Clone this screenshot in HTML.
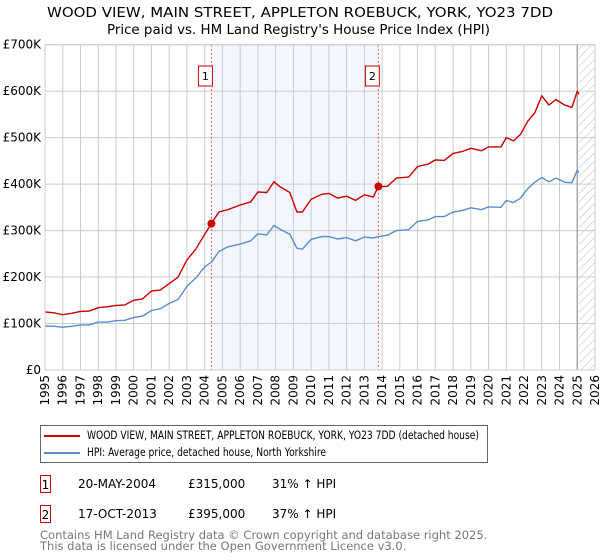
<!DOCTYPE html>
<html><head><meta charset="utf-8"><style>
body{margin:0;background:#fff;font-family:"DejaVu Sans","Liberation Sans",sans-serif;}
#wrap{position:relative;width:600px;height:560px;overflow:hidden}
.t{position:absolute;white-space:nowrap;color:#000}
.box{position:absolute;border:1px solid #c00;width:11px;height:18px;font-size:12px;text-align:center;line-height:18px;box-sizing:border-box}
.lt{display:inline-block;transform:scaleX(0.795);transform-origin:left center}
</style></head><body>
<div id="wrap">
<svg id="chart" width="600" height="420" style="position:absolute;left:0;top:0"></svg>
<div style="position:absolute;left:40px;top:425px;width:446px;height:36px;border:1px solid #666;font-size:11.5px;white-space:nowrap">
 <div style="position:absolute;left:3px;top:2px"><span style="display:inline-block;width:36px;height:2px;background:#c00;vertical-align:middle;margin-right:7px"></span><span class="lt">WOOD VIEW, MAIN STREET, APPLETON ROEBUCK, YORK, YO23 7DD (detached house)</span></div>
 <div style="position:absolute;left:3px;top:19px"><span style="display:inline-block;width:36px;height:2px;background:#5b8bd0;vertical-align:middle;margin-right:7px"></span><span class="lt">HPI: Average price, detached house, North Yorkshire</span></div>
</div>
<div class="box" style="left:40px;top:475px">1</div>
<div class="t" style="left:78px;top:477px;font-size:12px">20-MAY-2004</div>
<div class="t" style="left:188px;top:477px;font-size:12px">£315,000</div>
<div class="t" style="left:272px;top:477px;font-size:12px">31% ↑ HPI</div>
<div class="box" style="left:40px;top:505px">2</div>
<div class="t" style="left:78px;top:507px;font-size:12px">17-OCT-2013</div>
<div class="t" style="left:188px;top:507px;font-size:12px">£395,000</div>
<div class="t" style="left:272px;top:507px;font-size:12px">37% ↑ HPI</div>
<div class="t" style="left:40px;top:530px;font-size:11.5px;color:#777;line-height:11px">Contains HM Land Registry data © Crown copyright and database right 2025.<br>This data is licensed under the Open Government Licence v3.0.</div>
</div>
<script>
const redYears=[1995,1995.5,1996,1996.5,1997,1997.5,1998,1998.5,1999,1999.5,2000,2000.5,2001,2001.5,2002,2002.5,2003,2003.5,2004,2004.38,2004.8,2005.3,2006,2006.6,2007,2007.5,2007.9,2008.3,2008.8,2009.2,2009.5,2010,2010.6,2011,2011.5,2012,2012.5,2013,2013.5,2013.79,2014.3,2014.8,2015.5,2016,2016.6,2017,2017.5,2018,2018.5,2019,2019.6,2020,2020.7,2021,2021.4,2021.8,2022.2,2022.6,2023,2023.4,2023.8,2024.3,2024.7,2025,2025.1];
const redValues=[125,123,119,122,126,127,134,136,139,140,150,153,170,172,186,200,237,260,292,315,340,345,355,362,383,382,405,393,382,340,340,367,378,380,370,374,365,377,372,395,395,413,415,438,443,452,451,466,470,477,472,480,480,500,493,507,535,553,590,570,582,570,565,600,593];
const hpiYears=[1995,1995.5,1996,1996.5,1997,1997.5,1998,1998.5,1999,1999.5,2000,2000.5,2001,2001.5,2002,2002.5,2003,2003.5,2004,2004.38,2004.8,2005.3,2006,2006.6,2007,2007.5,2007.9,2008.3,2008.8,2009.2,2009.5,2010,2010.6,2011,2011.5,2012,2012.5,2013,2013.5,2013.79,2014.3,2014.8,2015.5,2016,2016.6,2017,2017.5,2018,2018.5,2019,2019.6,2020,2020.7,2021,2021.4,2021.8,2022.2,2022.6,2023,2023.4,2023.8,2024.3,2024.7,2025,2025.1];
const hpiValues=[95,94,92,94,97,97,103,103,106,107,113,116,128,132,143,152,180,198,222,232,255,265,271,278,293,291,311,302,292,262,260,281,287,287,282,285,278,286,284,287,290,300,302,320,323,330,330,340,343,349,345,351,350,365,360,370,390,404,414,405,413,404,403,430,425];
const saleYears=[2004.38,2013.79];
const saleValues=[315,395];
const saleLabels=["1","2"];
const yTicks=[0,100,200,300,400,500,600,700];
const yTickLabels=["£0","£100K","£200K","£300K","£400K","£500K","£600K","£700K"];
const xTicks=[1995,1996,1997,1998,1999,2000,2001,2002,2003,2004,2005,2006,2007,2008,2009,2010,2011,2012,2013,2014,2015,2016,2017,2018,2019,2020,2021,2022,2023,2024,2025,2026];
const L=45,R=595,T=44.7,B=370;
const x=v=>L+(v-1995)/(2026-1995)*(R-L);
const y=v=>B-v/700*(B-T);
const svg=document.getElementById('chart');
const NS='http://www.w3.org/2000/svg';
function mk(tag,at,parent){const e=document.createElementNS(NS,tag);for(const k in at)e.setAttribute(k,at[k]);(parent||svg).appendChild(e);return e;}
let defs=mk('defs',{});
let pat=mk('pattern',{id:'hatch',width:6,height:6,patternUnits:'userSpaceOnUse',patternTransform:'rotate(45)'},defs);
mk('line',{x1:0,y1:0,x2:0,y2:6,stroke:'#bbb','stroke-width':1},pat);
let t1=mk('text',{x:47,y:17,'font-size':'13',textLength:506,lengthAdjust:'spacingAndGlyphs'});t1.textContent='WOOD VIEW, MAIN STREET, APPLETON ROEBUCK, YORK, YO23 7DD';

let t2=mk('text',{x:107,y:34,'font-size':'13',textLength:383,lengthAdjust:'spacingAndGlyphs'});t2.textContent="Price paid vs. HM Land Registry's House Price Index (HPI)";

let sh=mk('rect',{x:x(saleYears[0]),y:T,width:x(saleYears[1])-x(saleYears[0]),height:B-T,fill:'#eef3fc',opacity:0.7});

let ht=mk('rect',{x:x(2025.1),y:T,width:R-x(2025.1),height:B-T,fill:'url(#hatch)'});

xTicks.forEach(v=>{let g=mk('line',{x1:x(v),x2:x(v),y1:T,y2:B,stroke:'#ccc','stroke-width':1});

let tx=mk('text',{x:0,y:0,'font-size':12,'text-anchor':'end',transform:`translate(${x(v)+4},${B+5}) rotate(-90)`});tx.textContent=v;
});
yTicks.forEach((v,i)=>{let g=mk('line',{x1:L,x2:R,y1:y(v),y2:y(v),stroke:'#ccc','stroke-width':1});

let tx=mk('text',{x:L-4,y:y(v)+4,'font-size':12,'text-anchor':'end'});tx.textContent=yTickLabels[i];
});
let nl=mk('line',{x1:x(2025),x2:x(2025),y1:T,y2:B,stroke:'#999','stroke-width':1.2});

saleYears.forEach((v,i)=>{let d=mk('line',{x1:x(v),x2:x(v),y1:T,y2:B,stroke:'#e55','stroke-width':1,'stroke-dasharray':'2,2'});

let r=mk('rect',{x:x(v)-13,y:66,width:14,height:20,fill:'#fff',stroke:'#c00'});

let tx=mk('text',{x:x(v)-6,y:80,'font-size':11,'text-anchor':'middle'});tx.textContent=saleLabels[i];
});
function line(xs,vs,col,name){let p=mk('polyline',{points:xs.map((v,i)=>x(v).toFixed(1)+','+y(vs[i]).toFixed(1)).join(' '),fill:'none',stroke:col,'stroke-width':1.4,'stroke-linejoin':'round'});
}
line(hpiYears,hpiValues,'#5b8bd0','hpi-line');
line(redYears,redValues,'#c00','property-price-line');
saleYears.forEach((v,i)=>{let c=mk('circle',{cx:x(v),cy:y(saleValues[i]),r:4,fill:'#c00'});
});
let ax=mk('rect',{x:L,y:T,width:R-L,height:B-T,fill:'none',stroke:'#ccc'});

</script>
</body></html>
